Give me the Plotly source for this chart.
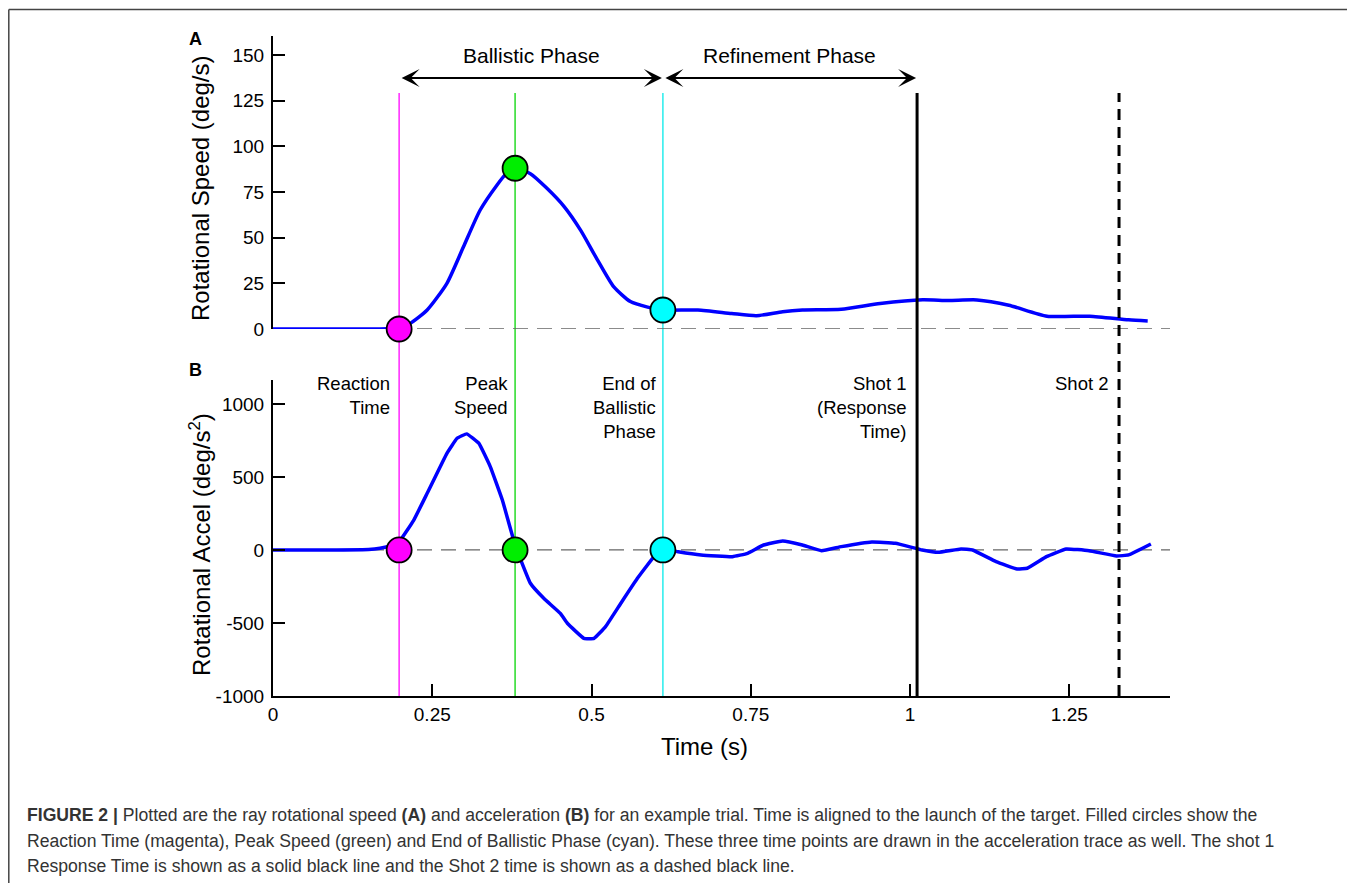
import plotly.graph_objects as go

# ---------------- data ----------------
t_speed = [0, 0.05, 0.10, 0.15, 0.18, 0.198, 0.215, 0.242, 0.273, 0.299, 0.325, 0.352,
           0.366, 0.380, 0.404, 0.430, 0.457, 0.483, 0.509, 0.535, 0.561, 0.588, 0.612, 0.667,
           0.720, 0.759, 0.800, 0.831, 0.892, 0.953, 1.02, 1.06, 1.105, 1.155, 1.215,
           1.282, 1.343, 1.373]
speed = [0, 0, 0, 0, 0.2, 0.6, 3, 10.4, 25, 45, 65, 79,
         85, 88, 85, 77, 67, 54, 38, 23, 15, 12, 10.4, 10.4,
         8.5, 7.3, 9.5, 10.4, 10.8, 14, 16, 15.6, 15.9, 13, 7,
         7, 5, 4.4]

t_accel = [0, 0.1, 0.15, 0.168, 0.185, 0.198, 0.221, 0.242, 0.273, 0.289, 0.304, 0.323,
           0.341, 0.360, 0.380, 0.404, 0.425, 0.451, 0.462, 0.488, 0.504, 0.522, 0.546,
           0.572, 0.598, 0.614, 0.636, 0.672, 0.721, 0.745, 0.770, 0.800, 0.831, 0.861,
           0.892, 0.940, 0.977, 1.019, 1.044, 1.080, 1.098, 1.135, 1.168, 1.184, 1.214,
           1.245, 1.281, 1.324, 1.343, 1.378]
accel = [0, 0, 3, 12, 30, 57, 205, 388, 662, 765, 795, 731,
         571, 342, 34, -228, -331, -434, -502, -605, -605, -525, -365,
         -194, -46, 5, -12, -34, -46, -23, 34, 62, 34, -5,
         23, 55, 46, 0, -16, 7, 0, -80, -130, -125, -46,
         7, -5, -41, -34, 41]

event_names = ["Reaction<br>Time", "Peak<br>Speed", "End of<br>Ballistic<br>Phase"]
event_times = [0.198, 0.380, 0.612]
event_speed = [0, 88, 10.4]
event_accel = [0, 0, 0]
event_colors = ["#FF00FF", "#00EE00", "#00FFFF"]
event_line_colors = ["#FF33FF", "#33DD33", "#33EEEE"]

shot_names = ["Shot 1<br>(Response<br>Time)", "Shot 2"]
shot_times = [1.011, 1.328]

phase_names = ["Ballistic Phase", "Refinement Phase"]

speed_ticks = [0, 25, 50, 75, 100, 125, 150]
accel_ticks = [-1000, -500, 0, 500, 1000]
time_ticks = [0, 0.25, 0.5, 0.75, 1, 1.25]
time_ticktext = ["0", "0.25", "0.5", "0.75", "1", "1.25"]

caption_lines = [
    "<b>FIGURE 2 |</b> Plotted are the ray rotational speed <b>(A)</b> and acceleration <b>(B)</b> for an example trial. Time is aligned to the launch of the target. Filled circles show the",
    "Reaction Time (magenta), Peak Speed (green) and End of Ballistic Phase (cyan). These three time points are drawn in the acceleration trace as well. The shot 1",
    "Response Time is shown as a solid black line and the Shot 2 time is shown as a dashed black line.",
]

# ---------------- geometry helpers ----------------
# the page body has an 8px margin, so figure pixel = page pixel - 8
OFF = 8
W, H = 1355 - OFF, 883 - OFF
ML = 273 - OFF
MR = W - (1170 - OFF)
MT = 36 - OFF
MB = H - (696 - OFF)
PW = W - ML - MR
PH = H - MT - MB


def px(x):
    """page x pixel -> paper x"""
    return (x - OFF - ML) / PW


def py(y):
    """page y pixel -> paper y"""
    return (H - MB - (y - OFF)) / PH


FONT = "Liberation Sans, Arial, Helvetica, sans-serif"
X_MAX = 1.408

fig = go.Figure()

# speed trace (top)
fig.add_trace(go.Scatter(x=t_speed, y=speed, mode="lines", xaxis="x2", yaxis="y2",
                         line=dict(color="#0000FF", width=3.5, shape="spline", smoothing=0.6),
                         showlegend=False, hoverinfo="skip"))
# accel trace (bottom)
fig.add_trace(go.Scatter(x=t_accel, y=accel, mode="lines", xaxis="x", yaxis="y",
                         line=dict(color="#0000FF", width=3.5, shape="spline", smoothing=0.3),
                         showlegend=False, hoverinfo="skip"))

# event markers
fig.add_trace(go.Scatter(x=event_times, y=event_speed, mode="markers", xaxis="x2", yaxis="y2",
                         marker=dict(size=25, color=event_colors, line=dict(color="black", width=1.8)),
                         cliponaxis=False, showlegend=False, hoverinfo="skip"))
fig.add_trace(go.Scatter(x=event_times, y=event_accel, mode="markers", xaxis="x", yaxis="y",
                         marker=dict(size=25, color=event_colors, line=dict(color="black", width=1.8)),
                         cliponaxis=False, showlegend=False, hoverinfo="skip"))

shapes = []
# zero dashed lines
for xr, yr in (("x2", "y2"), ("x", "y")):
    shapes.append(dict(type="line", xref=xr, yref=yr, x0=0, x1=X_MAX, y0=0, y1=0,
                       line=dict(color="#666666", width=1.3, dash="15px,9px"), layer="below"))
# event vertical lines
for t, c in zip(event_times, event_line_colors):
    shapes.append(dict(type="line", xref="x", yref="paper", x0=t, x1=t, y0=0, y1=py(93),
                       line=dict(color=c, width=1.6), layer="below"))
# shot lines
shapes.append(dict(type="line", xref="x", yref="paper", x0=shot_times[0], x1=shot_times[0],
                   y0=0, y1=py(93), line=dict(color="black", width=3)))
shapes.append(dict(type="line", xref="x", yref="paper", x0=shot_times[1], x1=shot_times[1],
                   y0=0, y1=py(93), line=dict(color="black", width=3, dash="11px,7px")))
# frame
shapes.append(dict(type="line", xref="paper", yref="paper", x0=px(8.8), x1=px(1355), y0=py(9.5), y1=py(9.5),
                   line=dict(color="#444444", width=1.5)))
shapes.append(dict(type="line", xref="paper", yref="paper", x0=px(8.8), x1=px(8.8), y0=py(9.5), y1=py(883),
                   line=dict(color="#444444", width=1.5)))

annotations = []
# phase arrows
phase_bounds = [(event_times[0], event_times[2]), (event_times[2], shot_times[0])]
for name, (a, b) in zip(phase_names, phase_bounds):
    annotations.append(dict(x=b, y=py(78), ax=a, ay=0, xref="x", yref="paper", axref="x", ayref="pixel",
                            text="", showarrow=True, arrowside="end+start", arrowhead=3, startarrowhead=3,
                            arrowsize=1.5, startarrowsize=1.5, arrowwidth=2, arrowcolor="black",
                            standoff=1, startstandoff=1))
    annotations.append(dict(x=(a + b) / 2, y=py(55), xref="x", yref="paper", text=name, showarrow=False,
                            font=dict(size=21, color="black", family=FONT), xanchor="center", yanchor="middle"))

# event labels in panel B
label_shifts = [-7, -5, -4, -9, -8]
for name, t, s in zip(event_names + shot_names, event_times + shot_times, label_shifts):
    annotations.append(dict(x=t, y=py(371), xref="x", yref="paper", text=name, showarrow=False,
                            xanchor="right", yanchor="top", align="right", xshift=s,
                            font=dict(size=18.5, color="black", family=FONT)))

# panel letters
annotations.append(dict(x=px(195), y=py(39), xref="paper", yref="paper", text="<b>A</b>", showarrow=False,
                        font=dict(size=18, color="black", family=FONT), xanchor="center", yanchor="middle"))
annotations.append(dict(x=px(195), y=py(370), xref="paper", yref="paper", text="<b>B</b>", showarrow=False,
                        font=dict(size=18, color="black", family=FONT), xanchor="center", yanchor="middle"))

# axis titles
annotations.append(dict(x=px(200), y=py(188), xref="paper", yref="paper", text="Rotational Speed (deg/s)",
                        textangle=-90, showarrow=False, font=dict(size=24, color="black", family=FONT),
                        xanchor="center", yanchor="middle"))
annotations.append(dict(x=px(200), y=py(545), xref="paper", yref="paper",
                        text="Rotational Accel (deg/s<sup>2</sup>)",
                        textangle=-90, showarrow=False, font=dict(size=24, color="black", family=FONT),
                        xanchor="center", yanchor="middle"))
annotations.append(dict(x=px(704), y=py(747), xref="paper", yref="paper", text="Time (s)",
                        showarrow=False, font=dict(size=24, color="black", family=FONT),
                        xanchor="center", yanchor="middle"))

# caption
for i, line in enumerate(caption_lines):
    annotations.append(dict(x=px(25), y=py([815, 841, 866][i]), xref="paper", yref="paper", text=line,
                            showarrow=False, xanchor="left", yanchor="middle", align="left",
                            font=dict(size=17.6, color="#333333", family=FONT)))

axis_common = dict(showgrid=False, zeroline=False, showline=True, linecolor="black", linewidth=2,
                   ticks="inside", ticklen=12, tickwidth=2, tickcolor="black",
                   tickfont=dict(size=19, color="black", family=FONT))

fig.update_layout(
    width=W, height=H,
    margin=dict(l=ML, r=MR, t=MT, b=MB, pad=0),
    paper_bgcolor="white", plot_bgcolor="white",
    font=dict(family=FONT, color="black"),
    xaxis=dict(axis_common, domain=[0, 1], range=[0, X_MAX], anchor="y",
               tickvals=time_ticks, ticktext=time_ticktext),
    xaxis2=dict(domain=[0, 1], range=[0, X_MAX], anchor="y2", matches="x",
                showline=False, showgrid=False, zeroline=False, showticklabels=False, ticks=""),
    yaxis=dict(axis_common, domain=[0, py(380)], range=[-1000, 1164], anchor="x",
               tickvals=accel_ticks, ticktext=[str(v) for v in accel_ticks], ticklabelstandoff=3),
    yaxis2=dict(axis_common, domain=[py(329), 1], range=[0, 160.4], anchor="x2",
                tickvals=speed_ticks, ticklabelstandoff=3),
    shapes=shapes,
    annotations=annotations,
    showlegend=False,
)

fig.write_html("out.html")
